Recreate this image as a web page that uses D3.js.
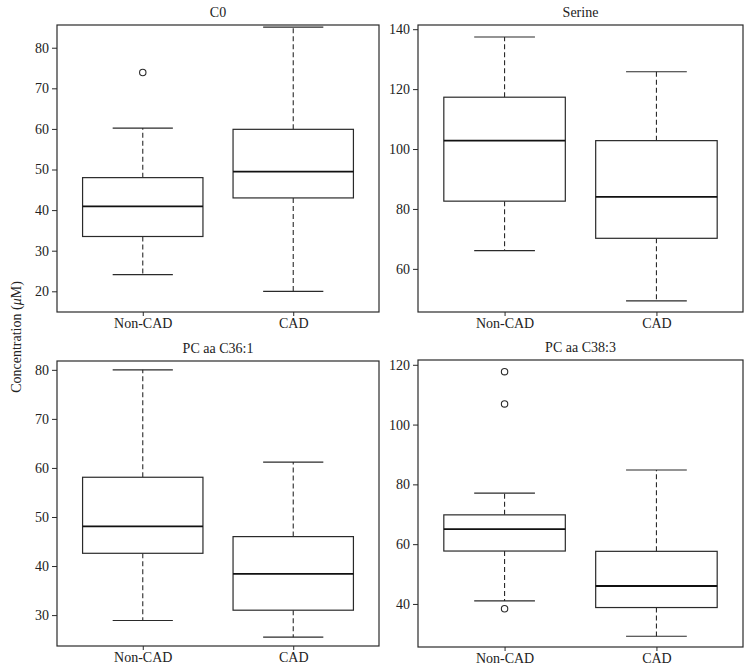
<!DOCTYPE html>
<html>
<head>
<meta charset="utf-8">
<script src="https://cdn.jsdelivr.net/npm/d3@7"></script>
<style>
  html, body { margin: 0; padding: 0; background: #fff; }
  svg { display: block; }
  svg text { font-family: "Liberation Serif", "Times New Roman", "DejaVu Serif", serif !important; fill: #222; }
</style>
</head>
<body>
<script>
// ---- data ----
const categories = ["Non-CAD", "CAD"];
const titles = ["C0", "Serine", "PC aa C36:1", "PC aa C38:3"];
// per panel: [lowerWhisker, Q1, median, Q3, upperWhisker] for each category
const statsC0     = [[24.1, 33.5, 40.9, 48.0, 60.2], [20.0, 43.0, 49.5, 59.9, 85.1]];
const statsSerine = [[66.1, 82.6, 102.8, 117.3, 137.4], [49.3, 70.2, 84.0, 102.8, 125.8]];
const statsC36    = [[28.9, 42.6, 48.1, 58.1, 80.0], [25.5, 31.0, 38.4, 46.0, 61.2]];
const statsC38    = [[41.0, 57.7, 65.0, 69.8, 77.1], [29.2, 38.8, 46.0, 57.6, 84.8]];
const outliersC0     = [[73.9], []];
const outliersSerine = [[], []];
const outliersC36    = [[], []];
const outliersC38    = [[117.7, 106.9, 38.4], []];
const ticksC0     = [20, 30, 40, 50, 60, 70, 80];
const ticksSerine = [60, 80, 100, 120, 140];
const ticksC36    = [30, 40, 50, 60, 70, 80];
const ticksC38    = [40, 60, 80, 100, 120];
const yDomains = [[14.9, 85.6], [45.6, 141.4], [23.7, 81.8], [25.6, 121.6]];
const yLabel = "Concentration (";

const FONT = "'Liberation Serif', 'Times New Roman', 'DejaVu Serif', serif";

const panels = [
  { title: titles[0], stats: statsC0, out: outliersC0, ticks: ticksC0, dom: yDomains[0], x0: 57, x1: 379, y0: 25, y1: 312 },
  { title: titles[1], stats: statsSerine, out: outliersSerine, ticks: ticksSerine, dom: yDomains[1], x0: 418, x1: 743, y0: 25, y1: 312 },
  { title: titles[2], stats: statsC36, out: outliersC36, ticks: ticksC36, dom: yDomains[2], x0: 57, x1: 379, y0: 361, y1: 646 },
  { title: titles[3], stats: statsC38, out: outliersC38, ticks: ticksC38, dom: yDomains[3], x0: 418, x1: 743, y0: 360, y1: 647 }
];

const svg = d3.select("body").append("svg").attr("width", 751).attr("height", 669)
  .attr("font-family", FONT);
const ink = "#2a2a2a";

panels.forEach(p => {
  const g = svg.append("g");
  const x = d3.scaleLinear().domain([0.43, 2.57]).range([p.x0, p.x1]);
  const y = d3.scaleLinear().domain(p.dom).range([p.y1, p.y0]);

  // y axis
  const ya = g.append("g").attr("transform", `translate(${p.x0},0)`)
    .call(d3.axisLeft(y).tickValues(p.ticks).tickSize(5).tickPadding(3).tickFormat(d3.format("d")));
  ya.attr("font-family", FONT).attr("font-size", 14);
  ya.select(".domain").remove();
  ya.selectAll("line").attr("stroke", ink);
  ya.selectAll("text").attr("fill", "#222");

  // x axis
  const xa = g.append("g").attr("transform", `translate(0,${p.y1})`)
    .call(d3.axisBottom(x).tickValues([1, 2]).tickSize(4).tickPadding(2).tickFormat((d, i) => categories[i]));
  xa.attr("font-family", FONT).attr("font-size", 14);
  xa.select(".domain").remove();
  xa.selectAll("line").attr("stroke", ink);
  xa.selectAll("text").attr("fill", "#222");

  // frame
  g.append("rect").attr("x", p.x0).attr("y", p.y0)
    .attr("width", p.x1 - p.x0).attr("height", p.y1 - p.y0)
    .attr("fill", "none").attr("stroke", ink).attr("stroke-width", 1.2);

  // title
  g.append("text").attr("x", (p.x0 + p.x1) / 2).attr("y", p.y0 - 8)
    .attr("text-anchor", "middle").attr("font-family", FONT).attr("font-size", 14).text(p.title);

  const bw = 0.4, cw = 0.2;
  p.stats.forEach((s, i) => {
    const c = i + 1;
    const [lo, q1, med, q3, hi] = s;
    // whiskers
    g.append("line").attr("x1", x(c)).attr("x2", x(c)).attr("y1", y(q3)).attr("y2", y(hi))
      .attr("stroke", ink).attr("stroke-width", 1.1).attr("stroke-dasharray", "5,3");
    g.append("line").attr("x1", x(c)).attr("x2", x(c)).attr("y1", y(q1)).attr("y2", y(lo))
      .attr("stroke", ink).attr("stroke-width", 1.1).attr("stroke-dasharray", "5,3");
    // caps
    [lo, hi].forEach(v => {
      g.append("line").attr("x1", x(c - cw)).attr("x2", x(c + cw)).attr("y1", y(v)).attr("y2", y(v))
        .attr("stroke", ink).attr("stroke-width", 1.2);
    });
    // box
    g.append("rect").attr("x", x(c - bw)).attr("y", y(q3))
      .attr("width", x(c + bw) - x(c - bw)).attr("height", y(q1) - y(q3))
      .attr("fill", "#fff").attr("stroke", ink).attr("stroke-width", 1.2);
    // median
    g.append("line").attr("x1", x(c - bw)).attr("x2", x(c + bw)).attr("y1", y(med)).attr("y2", y(med))
      .attr("stroke", "#111").attr("stroke-width", 1.8);
    // outliers
    p.out[i].forEach(v => {
      g.append("circle").attr("cx", x(c)).attr("cy", y(v)).attr("r", 3.2)
        .attr("fill", "none").attr("stroke", ink).attr("stroke-width", 1.1);
    });
  });
});

// shared y label
const yl = svg.append("text")
  .attr("transform", "translate(21,337) rotate(-90)")
  .attr("text-anchor", "middle").attr("font-family", FONT).attr("font-size", 14);
yl.append("tspan").text(yLabel);
yl.append("tspan").attr("font-style", "italic").text("\u03BC");
yl.append("tspan").text("M)");
</script>
</body>
</html>
